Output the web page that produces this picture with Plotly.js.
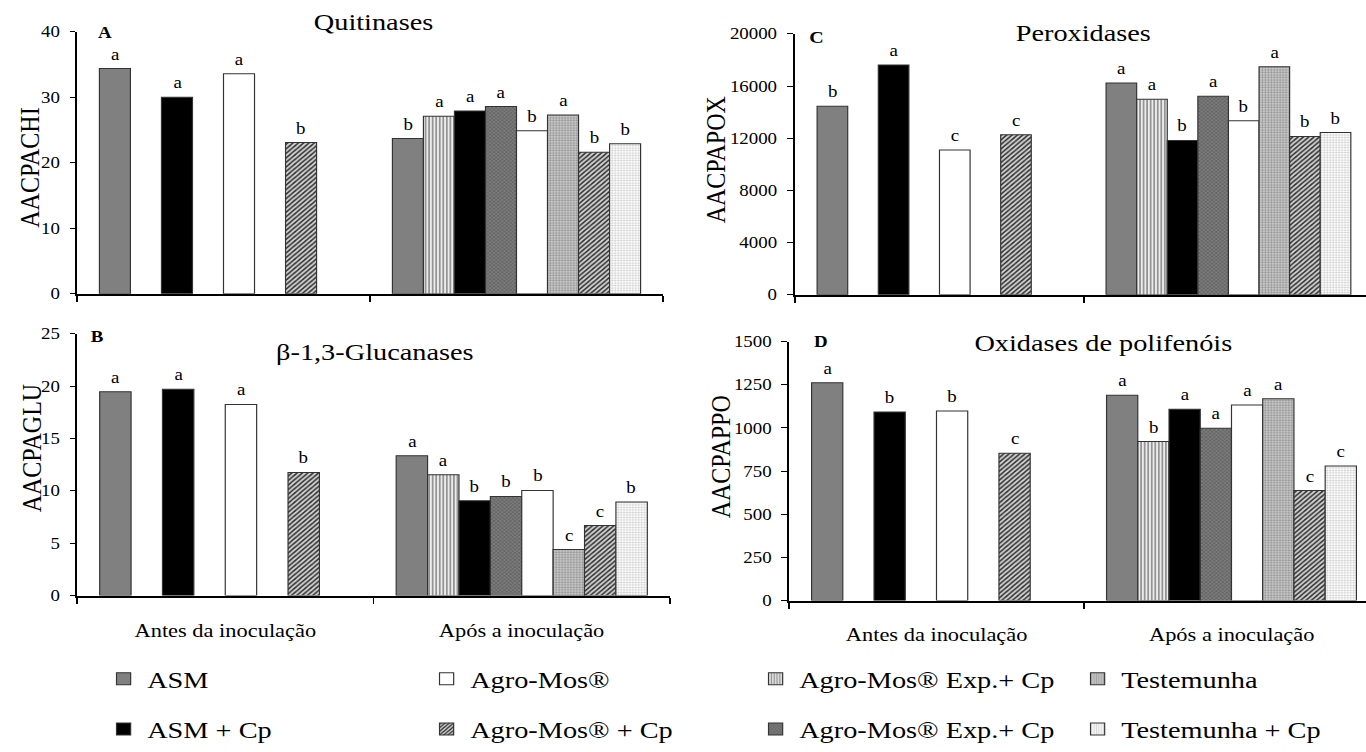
<!DOCTYPE html>
<html>
<head>
<meta charset="utf-8">
<script src="https://cdn.plot.ly/plotly-3.0.1.min.js"></script>
<style>
html,body{margin:0;padding:0;background:#fff;overflow:hidden;}
#chart{height:752px;transform-origin:0 0;}
</style>
</head>
<body>
<div id="chart"></div>
<script>
// ---------- DATA ----------
const categories = ['Antes da inoculação', 'Após a inoculação'];
const seriesNames = ['ASM', 'Agro-Mos® Exp.+ Cp', 'ASM + Cp', 'Agro-Mos® Exp.+ Cp',
                     'Agro-Mos®', 'Testemunha', 'Agro-Mos® + Cp', 'Testemunha + Cp'];

// Quitinases (A)
const chiBefore = [34.4, null, 30.0, null, 33.6, null, 23.1, null];
const chiAfter  = [23.7, 27.1, 27.9, 28.6, 24.9, 27.3, 21.6, 22.9];
const chiLetBefore = ['a', '', 'a', '', 'a', '', 'b', ''];
const chiLetAfter  = ['b', 'a', 'a', 'a', 'b', 'a', 'b', 'b'];

// Peroxidases (C)
const poxBefore = [14450, null, 17610, null, 11090, null, 12270, null];
const poxAfter  = [16240, 14990, 11830, 15220, 13340, 17480, 12140, 12440];
const poxLetBefore = ['b', '', 'a', '', 'c', '', 'c', ''];
const poxLetAfter  = ['a', 'a', 'b', 'a', 'b', 'a', 'b', 'b'];

// beta-1,3-Glucanases (B)
const gluBefore = [19.46, null, 19.7, null, 18.25, null, 11.75, null];
const gluAfter  = [13.34, 11.53, 9.06, 9.47, 10.04, 4.4, 6.69, 8.94];
const gluLetBefore = ['a', '', 'a', '', 'a', '', 'b', ''];
const gluLetAfter  = ['a', 'a', 'b', 'b', 'b', 'c', 'c', 'b'];

// Oxidases de polifenóis (D)
const ppoBefore = [1262, null, 1093, null, 1098, null, 854, null];
const ppoAfter  = [1189, 921, 1108, 998, 1133, 1169, 637, 779];
const ppoLetBefore = ['a', '', 'b', '', 'b', '', 'c', ''];
const ppoLetAfter  = ['a', 'b', 'a', 'a', 'a', 'a', 'c', 'c'];

// ---------- STYLE ----------
const FONT = 'Liberation Serif, Times New Roman, serif';
const W = 1366, H = 752;
const WP = 1158;                 // plot width before the horizontal stretch of the original figure
const STRETCH = W / WP;
const chartDiv = document.getElementById('chart');
chartDiv.style.width = WP + 'px';
chartDiv.style.transform = 'scaleX(' + STRETCH + ')';

const px = v => v / W;
const py = v => 1 - v / H;
const BARGAP = 0.153;
const NS = seriesNames.length;

const fills = [
  {color: '#808080'},
  {color: '#e6e6e6', pattern: {shape: '|', fgcolor: '#8a8a8a', bgcolor: '#ececec', size: 3, solidity: 0.45}},
  {color: '#000000'},
  {color: '#777777', pattern: {shape: 'x', fgcolor: '#505050', bgcolor: '#7e7e7e', size: 2.5, solidity: 0.35}},
  {color: '#ffffff'},
  {color: '#c0c0c0', pattern: {shape: '.', fgcolor: '#8e8e8e', bgcolor: '#d2d2d2', size: 2.5, solidity: 0.45}},
  {color: '#8c8c8c', pattern: {shape: '/', fgcolor: '#2e2e2e', bgcolor: '#d4d4d4', size: 3.2, solidity: 0.45}},
  {color: '#f4f4f4', pattern: {shape: '.', fgcolor: '#c2c2c2', bgcolor: '#ffffff', size: 2.5, solidity: 0.35}}
];
const legendOf = ['legend', 'legend3', 'legend', 'legend3', 'legend2', 'legend4', 'legend2', 'legend4'];

const panels = [
  {before: chiBefore, after: chiAfter, lb: chiLetBefore, la: chiLetAfter, xa: 'x',  ya: 'y',  legend: true},
  {before: poxBefore, after: poxAfter, lb: poxLetBefore, la: poxLetAfter, xa: 'x2', ya: 'y2', legend: false},
  {before: gluBefore, after: gluAfter, lb: gluLetBefore, la: gluLetAfter, xa: 'x3', ya: 'y3', legend: false},
  {before: ppoBefore, after: ppoAfter, lb: ppoLetBefore, la: ppoLetAfter, xa: 'x4', ya: 'y4', legend: false}
];

const traces = [];
const letterAnns = [];
const slot = (1 - BARGAP) / NS;
panels.forEach(p => {
  seriesNames.forEach((name, i) => {
    const f = fills[i];
    const marker = {color: f.color, line: {color: '#333333', width: 1}};
    if (f.pattern) marker.pattern = Object.assign({fillmode: 'replace'}, f.pattern);
    const ys = [p.before[i], p.after[i]];
    const ls = [p.lb[i], p.la[i]];
    traces.push({
      type: 'bar',
      name: name,
      x: categories,
      y: ys,
      marker: marker,
      xaxis: p.xa, yaxis: p.ya,
      showlegend: p.legend,
      legend: legendOf[i],
      legendgroup: 'g' + i,
      hoverinfo: 'skip'
    });
    ys.forEach((v, c) => {
      if (v === null || !ls[c]) return;
      letterAnns.push({
        text: ls[c], xref: p.xa, yref: p.ya,
        x: c + (i - (NS - 1) / 2) * slot, y: v,
        xanchor: 'center', yanchor: 'bottom', yshift: 4, showarrow: false,
        font: {family: FONT, size: 16, color: '#000'}
      });
    });
  });
});

function xAxis(domain, anchor, range, lw) {
  return {
    domain: domain, anchor: anchor, type: 'category', range: range,
    showline: true, linecolor: '#000', linewidth: lw,
    ticks: 'outside', tickson: 'boundaries', ticklen: 6, tickcolor: '#000', tickwidth: 1,
    showticklabels: false, showgrid: false, zeroline: false, fixedrange: true
  };
}
function yAxis(domain, anchor, range, dtick, lw) {
  return {
    domain: domain, anchor: anchor, range: range, dtick: dtick, tick0: 0,
    showline: true, linecolor: '#000', linewidth: lw,
    ticks: 'outside', ticklen: 5, tickcolor: '#000', tickwidth: 1,
    tickformat: 'd', ticklabelstandoff: 5,
    tickfont: {family: FONT, size: 16, color: '#000'},
    showgrid: false, zeroline: false, fixedrange: true
  };
}

function ann(text, x, y, size, opts) {
  return Object.assign({
    text: text, x: x, y: y, xref: 'paper', yref: 'paper',
    showarrow: false, xanchor: 'center', yanchor: 'middle',
    font: {family: FONT, size: size, color: '#000'}
  }, opts || {});
}

const annotations = [
  ann('Quitinases', px(373), py(22), 24),
  ann('Peroxidases', px(1083), py(33), 24),
  ann('β-1,3-Glucanases', px(375), py(353), 24),
  ann('Oxidases de polifenóis', px(1104), py(344), 24),
  ann('<b>A</b>', px(96), py(33), 16, {xanchor: 'left'}),
  ann('<b>C</b>', px(807), py(38), 17, {xanchor: 'left'}),
  ann('<b>B</b>', px(89), py(338), 16, {xanchor: 'left'}),
  ann('<b>D</b>', px(812), py(343), 16, {xanchor: 'left'}),
  ann('AACPACHI', px(30), py(168), 24, {textangle: -90}),
  ann('AACPAPOX', px(716), py(160), 24, {textangle: -90}),
  ann('AACPAGLU', px(32), py(450), 24, {textangle: -90}),
  ann('AACPAPPO', px(721), py(459), 24, {textangle: -90}),
  ann(categories[0], 0, py(633), 19, {xref: 'x3'}),
  ann(categories[1], 1, py(633), 19, {xref: 'x3'}),
  ann(categories[0], 0, py(637), 19, {xref: 'x4'}),
  ann(categories[1], 1, py(637), 19, {xref: 'x4'})
].concat(letterAnns);

function legendAt(xpx) {
  return {
    x: px(xpx), y: py(707), xanchor: 'left', yanchor: 'middle',
    orientation: 'v', bgcolor: 'rgba(0,0,0,0)', borderwidth: 0,
    font: {family: FONT, size: 24, color: '#000'},
    tracegroupgap: 16, itemwidth: 30, itemclick: false, itemdoubleclick: false
  };
}

const layout = {
  width: WP, height: H,
  margin: {l: 0, r: 0, t: 0, b: 0, pad: 0},
  paper_bgcolor: '#fff', plot_bgcolor: '#fff',
  barmode: 'group', bargap: BARGAP, bargroupgap: 0,
  showlegend: true,
  font: {family: FONT, color: '#000'},
  xaxis:  xAxis([px(77), px(663)], 'y', [-0.5, 1.5], 2),
  yaxis:  yAxis([py(295), py(32)], 'x', [0, 40], 10, 1.3),
  xaxis2: xAxis([px(795), 1], 'y2', [-0.5, 1.476], 2.5),
  yaxis2: yAxis([py(296), py(34)], 'x2', [0, 20000], 4000, 2),
  xaxis3: xAxis([px(77), px(670)], 'y3', [-0.5, 1.5], 2),
  yaxis3: yAxis([py(598), py(335)], 'x3', [0, 25], 5, 1.3),
  xaxis4: xAxis([px(789), 1], 'y4', [-0.5, 1.456], 2),
  yaxis4: yAxis([py(603), py(343)], 'x4', [0, 1500], 250, 1.5),
  legend:  legendAt(100),
  legend2: legendAt(423),
  legend3: legendAt(752),
  legend4: legendAt(1074),
  annotations: annotations
};

Plotly.newPlot('chart', traces, layout, {displayModeBar: false, staticPlot: true});
</script>
</body>
</html>
